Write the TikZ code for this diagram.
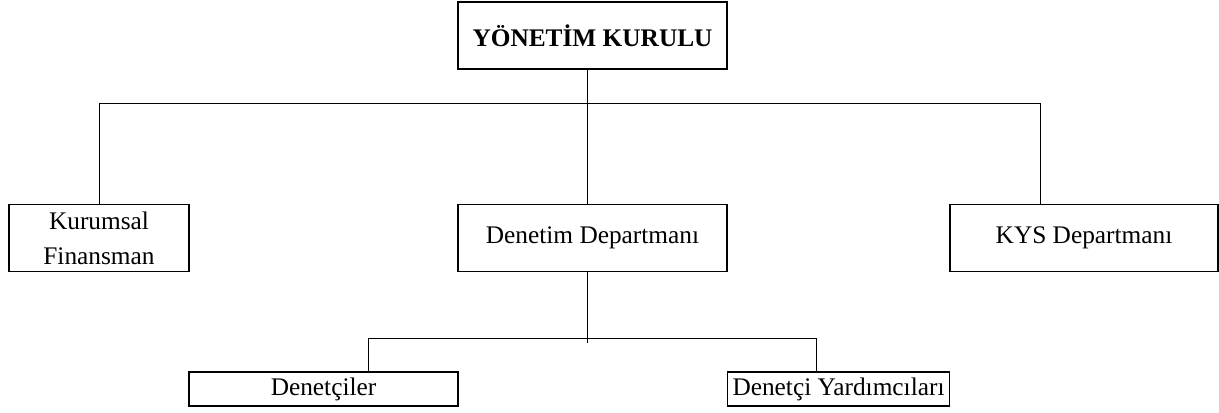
\documentclass[tikz,border=0pt]{standalone}
\usepackage{fontspec}
\setmainfont{Liberation Serif}
\begin{document}
\begin{tikzpicture}[x = 0.75pt, y = -0.75pt,
		kutu/.style = {draw, line width = 0.9pt, inner sep = 0pt, align = center, font = \fontsize{19}{26}\selectfont},
		hat/.style = {line width = 0.6pt}]
	\useasboundingbox (0, 0) rectangle (1219, 412);
	\node[kutu, minimum width = 269*0.75pt, minimum height = 67*0.75pt, font = \fontsize{19}{26}\selectfont\bfseries] (yk) at (592.5, 35.5) {YÖNETİM KURULU};
	\node[kutu, minimum width = 180*0.75pt, minimum height = 67*0.75pt] (kf) at (99, 238) {Kurumsal\\Finansman};
	\node[kutu, minimum width = 269*0.75pt, minimum height = 67*0.75pt] (dd) at (592.5, 238) {Denetim Departmanı};
	\node[kutu, minimum width = 268*0.75pt, minimum height = 67*0.75pt] (kys) at (1084, 238) {KYS Departmanı};
	\node[kutu, minimum width = 269*0.75pt, minimum height = 34*0.75pt] (dc) at (323.5, 389) {Denetçiler};
	\node[kutu, minimum width = 222*0.75pt, minimum height = 34*0.75pt] (dy) at (838.5, 389) {Denetçi Yardımcıları};
	% ust hat
	\coordinate (b1) at (587.5, 103);
	\coordinate (b1r) at (1040, 103);
	\draw[hat] (yk.south -| b1) -- (dd.north -| b1);
	\draw[hat] (kf.north) |- (b1r) -- (b1r |- kys.north);
	% alt hat
	\coordinate (b2) at (587.5, 338);
	\coordinate (b2l) at (368, 338);
	\coordinate (b2r) at (816, 338);
	\draw[hat] (dd.south -| b2) -- ([yshift = -5*0.75pt]b2);
	\draw[hat] (b2l |- dc.north) -- (b2l) -- (b2r) -- (b2r |- dy.north);
\end{tikzpicture}
\end{document}
